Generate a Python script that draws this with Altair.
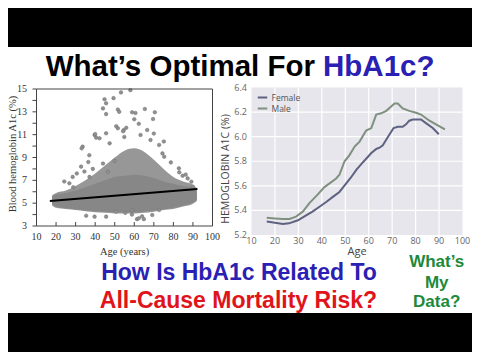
import altair as alt
import pandas as pd

# ---------------- Left panel: HbA1c vs age (scatter cloud) ----------------
band_age   = [18, 20, 25, 30, 35, 40, 45, 50, 55, 60, 65, 70, 75, 80, 85, 90, 92]
outer_low  = [4.8, 4.6, 4.5, 4.4, 4.3, 4.2, 4.15, 4.1, 4.1, 4.1, 4.15, 4.25, 4.4, 4.5, 4.7, 4.95, 5.2]
outer_high = [5.7, 5.9, 6.1, 6.5, 7.0, 7.6, 8.3, 9.0, 9.6, 9.8, 9.5, 8.8, 8.0, 7.3, 6.9, 6.6, 6.3]
core_low   = [4.9, 4.7, 4.55, 4.45, 4.35, 4.3, 4.25, 4.2, 4.2, 4.2, 4.25, 4.35, 4.45, 4.6, 4.8, 5.05, 5.3]
core_high  = [5.6, 5.75, 5.9, 6.1, 6.4, 6.7, 7.0, 7.3, 7.4, 7.5, 7.4, 7.2, 6.9, 6.7, 6.5, 6.3, 6.0]

out_age = [58, 53.2, 49.4, 44.8, 45.6, 44, 51.6, 52.3, 45.6, 58.9, 60.6, 65.4, 70.5, 69.6, 60,
           62.3, 66.6, 70, 63.2, 68.3, 72.7, 75.1, 74.4, 75.3, 78.7, 82.8, 83, 84.7, 86.3, 87.3,
           89.2, 89.9, 55.9, 54.6, 54.9, 51.6, 50.8, 54.3, 45.6, 47.4, 40.5, 42.2, 39.7, 40,
           33.6, 33.1, 37, 36.5, 32.8, 34.5, 30.6, 28.5, 37.1, 38.8, 44, 46.5, 50, 26.8, 24.2,
           28.8, 35.4, 39.7, 45.6, 50.8, 58.8, 58.9, 61.4, 62.3, 64.9, 64, 69.2, 72.7, 55.4]
out_val = [14.9, 14.7, 14.2, 14.1, 13.75, 13.3, 13.2, 13.0, 12.8, 12.96, 12.9, 13.25, 12.96, 12.37, 12.35,
           11.95, 11.41, 11.1, 10.97, 10.53, 10.1, 10.4, 9.36, 9.07, 8.57, 8.05, 7.7, 7.4, 7.5, 7.17,
           6.88, 6.45, 11.6, 11.4, 10.8, 11.56, 11.74, 11.3, 11.12, 10.24, 10.74, 10.68, 10.97, 11.05,
           9.95, 9.8, 9.2, 8.6, 8.2, 7.77, 7.6, 7.3, 7.3, 8.0, 8.47, 7.75, 8.7, 6.74, 6.9,
           6.4, 3.9, 3.82, 3.82, 4.26, 4.0, 4.35, 3.6, 3.68, 3.6, 3.85, 3.96, 4.4, 4.15]

fit_age = [16.8, 92.3]
fit_val = [5.19, 6.24]

left_xticks = [10, 20, 30, 40, 50, 60, 70, 80, 90, 100]
left_yticks = [3, 4, 5, 6, 7, 8, 9, 10, 11, 12, 13, 14, 15]
left_ylabels = [3, 5, 7, 9, 11, 13, 15]
left_xtitle = "Age (years)"
left_ytitle = "Blood hemoglobin A1c (%)"

# ---------------- Right panel: HbA1c by age and sex ----------------
female_age = [16.5, 20, 23.4, 26, 29.8, 33.3, 36, 39, 42, 44.7, 47.5, 50.4, 52.5, 54.7, 57, 58.9,
              61, 63.2, 64.6, 66, 68.1, 69.6, 70.6, 72.4, 74.5, 75.9, 77.3, 78.8, 82.3, 84.4, 87.3, 89.9]
female_val = [5.31, 5.30, 5.29, 5.295, 5.32, 5.36, 5.39, 5.43, 5.47, 5.51, 5.55, 5.62, 5.67, 5.73, 5.78, 5.82,
              5.865, 5.90, 5.91, 5.93, 5.995, 6.04, 6.07, 6.08, 6.08, 6.10, 6.13, 6.14, 6.14, 6.11, 6.07, 6.02]
male_age = [16.5, 20, 23.4, 26.2, 29, 31.9, 34.7, 38.3, 41.1, 43.3, 46.1, 47.5, 49.7, 51.8, 54, 56.1,
            58.9, 61.1, 63.2, 65.3, 67.5, 69.2, 71, 72.4, 74.5, 77.3, 80.2, 82.3, 85.9, 88.7, 92.5]
male_val = [5.34, 5.335, 5.33, 5.33, 5.35, 5.39, 5.46, 5.53, 5.59, 5.62, 5.66, 5.69, 5.80, 5.85, 5.92, 5.96,
            6.05, 6.07, 6.18, 6.19, 6.21, 6.24, 6.27, 6.27, 6.23, 6.21, 6.195, 6.18, 6.13, 6.10, 6.06]

right_xticks = [10, 20, 30, 40, 50, 60, 70, 80, 90, 100]
right_yticks = [5.2, 5.4, 5.6, 5.8, 6.0, 6.2, 6.4]
right_vgrid = [20, 30, 40, 50, 60, 70, 80, 90]
right_hgrid = [5.4, 5.6, 5.8, 6.0, 6.2]
right_xtitle = "Age"
right_ytitle = "HEMOGLOBIN A1C (%)"
sexes = ["Female", "Male"]
sex_colors = ["#5e6280", "#7f907f"]

# ---------------- Texts ----------------
title_black = "What\u2019s Optimal For"
title_blue = "HbA1c?"
line_blue = "How Is HbA1c Related To"
line_red = "All-Cause Mortality Risk?"
green_lines = ["What\u2019s", "My", "Data?"]

W, H = 464, 344
one = pd.DataFrame({"k": [0]})

LX = alt.Scale(domain=[10, 100], range=[28.5, 204.5], nice=False, zero=False)
LY = alt.Scale(domain=[3, 15], range=[218, 81], nice=False, zero=False)
RX = alt.Scale(domain=[10, 100], range=[243.5, 454.5], nice=False, zero=False)
RY = alt.Scale(domain=[5.2, 6.4], range=[227, 79.5], nice=False, zero=False)

SERIF = "Liberation Serif"
SANS = "Open Sans"


def plain_text(s, x, y, size, color, font, angle=0, align="center"):
    return alt.Chart(one).mark_text(text=s, font=font, fontSize=size, color=color,
                                    align=align, baseline="middle", angle=angle).encode(
        x=alt.value(x), y=alt.value(y))


# ----- left group -----
ldf = pd.DataFrame({"age": band_age, "olo": outer_low, "ohi": outer_high,
                    "clo": core_low, "chi": core_high})
outer = alt.Chart(ldf).mark_area(color="#979797", interpolate="monotone").encode(
    x=alt.X("age:Q", scale=LX, axis=None),
    y=alt.Y("olo:Q", scale=LY, axis=None),
    y2="ohi:Q")
core = alt.Chart(ldf).mark_area(color="#878787", interpolate="monotone").encode(
    x=alt.X("age:Q", scale=LX, axis=None),
    y=alt.Y("clo:Q", scale=LY, axis=None),
    y2="chi:Q")
pts = alt.Chart(pd.DataFrame({"age": out_age, "v": out_val})).mark_point(
    shape="circle", filled=True, size=13, color="#909090", stroke="#707070", strokeWidth=0.5,
    opacity=1).encode(
    x=alt.X("age:Q", scale=LX, axis=None),
    y=alt.Y("v:Q", scale=LY, axis=None))
fit = alt.Chart(pd.DataFrame({"age": fit_age, "v": fit_val})).mark_line(
    color="black", strokeWidth=1.8).encode(
    x=alt.X("age:Q", scale=LX, axis=None),
    y=alt.Y("v:Q", scale=LY, axis=None))
xticks = alt.Chart(pd.DataFrame({"t": left_xticks})).mark_rule(color="#444", strokeWidth=1).encode(
    x=alt.X("t:Q", scale=LX, axis=None),
    y=alt.YDatum(3, scale=LY, axis=None),
    y2=alt.datum(3.35))
yticks = alt.Chart(pd.DataFrame({"t": left_yticks})).mark_rule(color="#444", strokeWidth=1).encode(
    y=alt.Y("t:Q", scale=LY, axis=None),
    x=alt.XDatum(10, scale=LX, axis=None),
    x2=alt.datum(7.95))
frame = alt.Chart(one).mark_rect(fill="white", fillOpacity=0, stroke="#444", strokeWidth=1).encode(
    x=alt.XDatum(10, scale=LX, axis=None), x2=alt.datum(100),
    y=alt.YDatum(3, scale=LY, axis=None), y2=alt.datum(15))
xlabels = alt.Chart(pd.DataFrame({"t": left_xticks})).mark_text(
    font=SERIF, fontSize=10, color="#333", baseline="middle", align="center", dy=11).encode(
    x=alt.X("t:Q", scale=LX, axis=None),
    y=alt.YDatum(3, scale=LY, axis=None),
    text=alt.Text("t:Q", format="d"))
ylabels = alt.Chart(pd.DataFrame({"t": left_ylabels})).mark_text(
    font=SERIF, fontSize=10, color="#333", baseline="middle", align="right", dx=-9.5).encode(
    y=alt.Y("t:Q", scale=LY, axis=None),
    x=alt.XDatum(10, scale=LX, axis=None),
    text=alt.Text("t:Q", format="d"))
left_group = alt.layer(outer, core, pts, fit, xticks, yticks, frame, xlabels, ylabels)

# ----- right group -----
rbg = alt.Chart(one).mark_rect(color="#e6e6ec").encode(
    x=alt.XDatum(10, scale=RX, axis=None), x2=alt.datum(100),
    y=alt.YDatum(5.2, scale=RY, axis=None), y2=alt.datum(6.4))
vgrid = alt.Chart(pd.DataFrame({"t": right_vgrid})).mark_rule(color="white", strokeWidth=1.2).encode(
    x=alt.X("t:Q", scale=RX, axis=None),
    y=alt.YDatum(5.2, scale=RY, axis=None), y2=alt.datum(6.4))
hgrid = alt.Chart(pd.DataFrame({"t": right_hgrid})).mark_rule(color="white", strokeWidth=1.2).encode(
    y=alt.Y("t:Q", scale=RY, axis=None),
    x=alt.XDatum(10, scale=RX, axis=None), x2=alt.datum(100))
ldata = pd.DataFrame({
    "age": female_age + male_age,
    "v": female_val + male_val,
    "sex": ["Female"] * len(female_age) + ["Male"] * len(male_age),
})
lines = alt.Chart(ldata).mark_line(strokeWidth=2).encode(
    x=alt.X("age:Q", scale=RX, axis=None),
    y=alt.Y("v:Q", scale=RY, axis=None),
    color=alt.Color("sex:N", scale=alt.Scale(domain=sexes, range=sex_colors),
                    legend=alt.Legend(orient="none", legendX=248.5, legendY=83.5, title=None,
                                      symbolType="stroke", symbolStrokeWidth=2, symbolSize=90,
                                      labelFont=SANS, labelFontSize=8.5, labelColor="#555",
                                      rowPadding=0, labelOffset=3, padding=0)),
    detail="sex:N")
rxlabels = alt.Chart(pd.DataFrame({"t": right_xticks})).mark_text(
    font=SANS, fontSize=9, color="#666", baseline="middle", align="center", dy=5.5).encode(
    x=alt.X("t:Q", scale=RX, axis=None),
    y=alt.YDatum(5.2, scale=RY, axis=None),
    text=alt.Text("t:Q", format="d"))
rylabels = alt.Chart(pd.DataFrame({"t": right_yticks})).mark_text(
    font=SANS, fontSize=9, color="#666", baseline="middle", align="right", dx=-4.5).encode(
    y=alt.Y("t:Q", scale=RY, axis=None),
    x=alt.XDatum(10, scale=RX, axis=None),
    text=alt.Text("t:Q", format=".1f"))
right_group = alt.layer(rbg, vgrid, hgrid, lines, rxlabels, rylabels)

# ----- decorations and texts -----
def bar(y0, y1):
    return alt.Chart(one).mark_rect(color="black").encode(
        x=alt.value(0), x2=alt.value(W), y=alt.value(y0), y2=alt.value(y1))


def txt(s, x, y, size, color, align="center"):
    return alt.Chart(one).mark_text(text=s, font="Liberation Sans", fontWeight="bold",
                                    fontSize=size, color=color, align=align,
                                    baseline="alphabetic").encode(x=alt.value(x), y=alt.value(y))


BLUE, RED, GREEN = "#2a20b4", "#e0141a", "#1d8a3a"
texts = [
    plain_text(left_xtitle, 116.5, 244, 10.5, "#333", SERIF),
    plain_text(left_ytitle, 4.5, 146, 10.5, "#333", SERIF, angle=270),
    plain_text(right_xtitle, 349, 243.5, 11, "#444", SANS),
    plain_text(right_ytitle, 218, 161, 10.5, "#444", SANS, angle=270),
    txt(title_black, 307, 67.5, 29.5, "black", "right"),
    txt(title_blue, 315, 67.5, 29.5, BLUE, "left"),
    txt(line_blue, 231, 271.5, 23, BLUE),
    txt(line_red, 230.5, 300, 23, RED),
    txt(green_lines[0], 428.7, 259, 17, GREEN),
    txt(green_lines[1], 428.7, 280, 17, GREEN),
    txt(green_lines[2], 428.7, 299, 17, GREEN),
]

chart = alt.layer(bar(0, 39), bar(305, H), left_group, right_group, *texts).resolve_scale(
    x="independent", y="independent"
).properties(
    width=W, height=H, padding=0, background="white",
    autosize=alt.AutoSizeParams(type="none"),
).configure_view(stroke=None)

chart.save("out.html", embed_options={"renderer": "svg", "actions": False})
